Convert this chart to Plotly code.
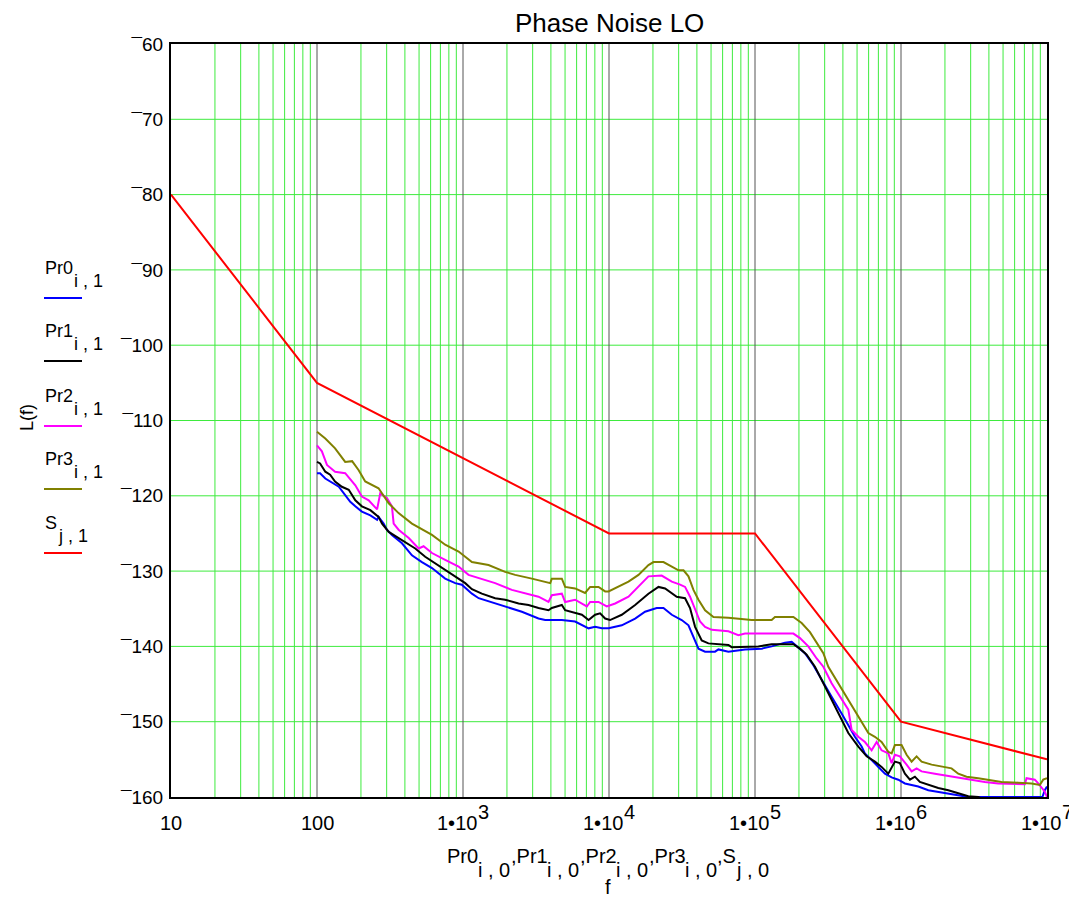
import math
import plotly.graph_objects as go

FONT = "Liberation Sans, Arial, sans-serif"
FS = 20      # tick labels / axis titles
FS_LEG = 18  # legend labels

# ---------------- data ----------------
pr0_f = [100, 105, 114, 127, 141, 156, 169, 183, 203, 232, 258, 264, 286, 301, 326, 382, 447, 523, 613, 755, 885,
         982, 1091, 1151, 1280, 1660, 1944, 2530, 3290, 3655, 4508, 4753, 5859, 6520, 7245, 8035, 8933, 9930,
         12230, 15100, 17660, 21220, 23610, 26920, 31470, 35020, 37880, 41000, 45500, 53230, 56180, 65750, 85470,
         111200, 130000, 160400, 178300, 192900, 219900, 251100, 286300, 334800, 392000, 446900, 459000, 483400,
         537500, 566000, 629300, 699300, 776200, 862700, 958000, 1064000, 1182000, 1313000, 1538000, 1800000,
         2108000, 2466000, 2890000, 5000000, 9300000, 9660000, 10000000]
pr0_v = [-117.0, -117.0, -117.7, -118.3, -118.8, -119.9, -120.8, -121.4, -122.1, -122.6, -123.2, -122.8, -123.7,
         -124.5, -125.2, -126.3, -127.9, -128.8, -129.6, -131.0, -131.6,
         -131.8, -132.6, -133.0, -133.6, -134.3, -134.7, -135.4, -136.3, -136.5, -136.5, -136.5, -136.7, -137.2,
         -137.6, -137.4, -137.6, -137.6,
         -137.2, -136.3, -135.4, -134.9, -134.9, -135.8, -136.5, -137.2, -138.7, -140.3, -140.7, -140.7, -140.4,
         -140.7, -140.4,
         -140.3, -140.0, -139.5, -139.4, -140.0, -140.9, -142.5, -144.5, -146.7, -148.9, -150.9, -151.3, -152.0,
         -153.3, -154.2, -155.1, -156.0, -156.9, -157.4, -157.7, -158.2, -158.4, -158.6, -159.1, -159.3,
         -159.5, -159.7, -160.0, -160.0, -160.0, -159.1, -158.6]

pr1_f = [100, 105, 114, 123, 133, 148, 165, 183, 203, 232, 264, 279, 310, 362, 425, 471, 551, 645, 755, 885,
         1036, 1151, 1346, 1660, 1944, 2404, 2812, 3290, 3852, 4058, 4508, 4753, 5006, 5859, 6520, 7245, 8035,
         8690, 9409, 10170, 12230, 15100, 18630, 21820, 24220, 29110, 33190, 35900, 38870, 43150, 47960, 65750,
         69200, 105500, 130000, 183200, 203200, 225800, 257500, 293800, 334800, 381700, 435700, 510200, 581800,
         662600, 736200, 818500, 862700, 908500, 982000, 1064000, 1151000, 1245000, 1347000, 1538000, 1800000,
         2108000, 2466000, 2890000, 3381000, 4000000, 10000000]
pr1_v = [-115.5, -115.7, -116.8, -117.2, -118.1, -118.8, -119.2, -120.6, -121.4, -121.9, -122.8, -123.7, -124.8,
         -125.6, -126.5, -127.0, -128.1, -129.0, -129.9, -130.7,
         -131.6, -132.4, -133.0, -133.6, -133.8, -134.3, -134.5, -134.9, -135.2, -134.9, -134.7, -134.5, -135.2,
         -135.6, -135.8, -136.5, -135.8,
         -135.6, -136.3, -136.5, -135.8, -134.5, -133.0, -132.1, -132.3, -133.4, -133.6, -134.9, -137.4, -139.2,
         -139.6, -139.8,
         -140.1, -140.0, -139.7, -139.7, -140.3, -141.1, -142.7, -144.9, -147.1, -149.3, -151.5, -153.3, -154.6,
         -155.3, -156.0, -156.9, -156.0, -155.3, -155.5, -156.9, -157.7, -157.3, -158.0, -158.4, -158.8,
         -159.1, -159.5, -159.9, -160.0, -160.6, -160.6]

pr2_f = [100, 108, 117, 133, 156, 183, 203, 226, 258, 271, 301, 326, 335, 362, 425, 497, 537, 613, 755, 933,
         1091, 1346, 1660, 2161, 2812, 3290, 3852, 4058, 4753, 5006, 5859, 6520, 7048, 7427, 8478, 9660, 11020,
         13600, 16790, 18630, 22960, 26920, 30690, 33190, 35900, 38870, 42040, 45500, 50580, 65750, 76900, 85470,
         183200, 203200, 231800, 264300, 293800, 334800, 381700, 435700, 459000, 510200, 566000, 629300, 681000,
         736200, 818500, 862700, 908500, 982000, 1092000, 1182000, 1279000, 1384000, 1706000, 2108000, 2600000,
         3041000, 3752000, 4634000, 6350000, 7047000, 7240000, 8254000, 8710000, 9165000, 9660000, 10000000]
pr2_v = [-113.3, -114.1, -115.9, -116.8, -117.0, -118.6, -120.1, -120.6, -121.8, -119.7, -120.3, -121.4, -123.7,
         -124.5, -125.6, -127.0, -126.7, -127.6, -128.5, -129.4,
         -130.5, -131.0, -131.6, -132.5, -133.0, -133.4, -134.1, -133.2, -133.0, -134.1, -133.8, -134.3, -134.7,
         -134.1, -134.1, -134.7, -134.3,
         -133.4, -131.6, -130.7, -130.6, -131.4, -131.8, -132.1, -133.4, -135.2, -136.7, -137.4, -137.8, -138.0,
         -138.5, -138.3,
         -138.3, -138.9, -140.0, -141.6, -142.7, -144.9, -146.7, -148.4, -151.1, -152.0, -152.7, -153.8, -152.7,
         -153.8, -154.2, -155.5, -154.4, -154.6, -155.7, -156.6, -156.2, -156.6, -156.9, -157.2, -157.5,
         -157.7, -158.0, -158.2, -158.2, -158.3, -157.5, -157.7, -158.2, -158.8, -159.3, -160.0]

pr3_f = [100, 114, 133, 156, 174, 193, 214, 264, 310, 362, 447, 523, 613, 755, 933, 1151, 1496, 1944, 2277, 2963,
         3957, 4058, 4753, 5006, 5859, 6857, 7427, 8478, 9409, 9930, 11620, 13600, 15920, 18630, 20170, 23610,
         26920, 29930, 32380, 35020, 37880, 41000, 45500, 51900, 65750, 81100, 94840, 130000, 137000, 183200,
         208700, 237900, 271400, 293800, 317900, 372300, 435700, 510200, 597300, 662600, 736200, 818500, 862700,
         908500, 1009000, 1092000, 1182000, 1279000, 1384000, 1620000, 1897000, 2220000, 2466000, 2812000,
         3381000, 3961000, 4883000, 6350000, 7834000, 8933000, 9420000, 10000000]
pr3_v = [-111.5, -112.4, -113.7, -115.5, -115.4, -116.6, -118.1, -119.0, -121.0, -122.3, -123.7, -124.5, -125.2,
         -126.5, -127.4, -128.8, -129.2, -130.1, -130.5, -131.0,
         -131.6, -131.0, -131.0, -132.1, -132.3, -132.9, -132.1, -132.1, -132.7, -132.7, -132.1, -131.4, -130.5,
         -129.2, -128.8, -128.8,
         -129.4, -129.9, -129.9, -130.7, -132.5, -133.8, -135.2, -136.1, -136.2, -136.4, -136.5, -136.5, -136.1,
         -136.1,
         -136.9, -138.1, -139.8, -140.9, -142.7, -144.9, -147.1, -149.3, -151.5, -152.0, -152.7, -154.0, -154.2,
         -153.1, -153.1, -154.4, -155.3, -154.6, -155.3, -155.7, -156.0, -156.2, -156.9, -157.3,
         -157.5, -157.7, -158.0, -158.1, -158.2, -158.4, -157.7, -157.5]

spec_f = [10, 100, 10000, 100000, 1000000, 10000000]
spec_v = [-80, -105, -125, -125, -150, -155]

series_names = ["Pr0", "Pr1", "Pr2", "Pr3", "S"]
series_subs_y = ["i , 1", "i , 1", "i , 1", "i , 1", "j , 1"]
series_subs_x = ["i , 0", "i , 0", "i , 0", "i , 0", "j , 0"]
series_f = [pr0_f, pr1_f, pr2_f, pr3_f, spec_f]
series_v = [pr0_v, pr1_v, pr2_v, pr3_v, spec_v]
series_col = ["#0000FF", "#000000", "#FF00FF", "#808000", "#FF0000"]

x_tick_vals = [10, 100, 1e3, 1e4, 1e5, 1e6, 1e7]
y_tick_vals = list(range(-60, -161, -10))
y_tick_text = ["\u00af%d" % abs(v) for v in y_tick_vals]
title_text = "Phase Noise LO"
y_title = "L(f)"
x_title2 = "f"

# ---------------- helpers ----------------
ARIAL = {'P': .667, 'r': .333, 'S': .667, 'i': .222, 'j': .222, ',': .278, ' ': .278, '\u2022': .35,
         'f': .278, '(': .333, ')': .333, 'L': .556}


def tw(s, size=FS):
    return sum(ARIAL.get(c, .556) for c in s) * size


# page coordinates of the plot area (the html body adds an 8px margin)
OFF = 8
L, R, T, B = 171, 1047, 44, 797
PAGE_W, PAGE_H = 1077, 898
W, H = PAGE_W - OFF, PAGE_H - OFF
pw, ph = R - L, B - T


def px(x):
    return (x - L) / pw


def py(y):
    return (B - y) / ph


def txt(x, y, s, xanchor="left", size=FS, angle=0):
    return dict(xref="paper", yref="paper", x=px(x), y=py(y), xanchor=xanchor, yanchor="middle",
                text=s, showarrow=False, textangle=angle, borderpad=0, borderwidth=0,
                font=dict(size=size, family=FONT, color="black"))


# ---------------- figure ----------------
fig = go.Figure()

GREEN = "#3EEB3E"
DECADE = "#555555"

gx, gy = [], []
for k in range(1, 7):
    for m in range(2, 10):
        gx += [m * 10 ** k, m * 10 ** k, None]
        gy += [-160, -60, None]
fig.add_trace(go.Scatter(x=gx, y=gy, mode="lines", line=dict(color=GREEN, width=1),
                         hoverinfo="skip", showlegend=False))
hx, hy = [], []
for v in y_tick_vals[1:-1]:
    hx += [10, 1e7, None]
    hy += [v, v, None]
fig.add_trace(go.Scatter(x=hx, y=hy, mode="lines", line=dict(color=GREEN, width=1),
                         hoverinfo="skip", showlegend=False))
dx, dy = [], []
for k in range(2, 7):
    dx += [10 ** k, 10 ** k, None]
    dy += [-160, -60, None]
fig.add_trace(go.Scatter(x=dx, y=dy, mode="lines", line=dict(color=DECADE, width=1),
                         hoverinfo="skip", showlegend=False))

for name, fx, vy, col in zip(series_names, series_f, series_v, series_col):
    fig.add_trace(go.Scatter(x=fx, y=vy, mode="lines", line=dict(color=col, width=2),
                             name=name, showlegend=False))

fig.update_layout(
    width=W, height=H,
    margin=dict(l=L - OFF, r=W - (R - OFF), t=T - OFF, b=H - (B - OFF), autoexpand=False),
    paper_bgcolor="white", plot_bgcolor="white",
    font=dict(family=FONT, size=FS, color="black"),
    showlegend=False,
)
fig.update_xaxes(type="log", range=[1, 7], showgrid=False, zeroline=False, automargin=False,
                 showline=True, linewidth=2, linecolor="black", mirror=True,
                 tickmode="array", tickvals=x_tick_vals, ticktext=[""] * len(x_tick_vals), ticks="")
fig.update_yaxes(range=[-160, -60], showgrid=False, zeroline=False, automargin=False,
                 showline=True, linewidth=2, linecolor="black", mirror=True,
                 tickmode="array", tickvals=y_tick_vals, ticktext=y_tick_text, ticks="",
                 ticklabelstandoff=2, tickfont=dict(size=19, family=FONT))

ann = []
shapes = []

# title
ann.append(txt((L + R) / 2, 23, title_text, xanchor="center", size=26))

# x tick labels (Mathcad style 1•10^n with full-size raised exponent)
for v in x_tick_vals:
    cx = L + pw * (math.log10(v) - 1) / 6
    e = int(round(math.log10(v)))
    if e <= 2:
        ann.append(txt(cx, 823, str(int(v)), xanchor="center"))
    else:
        base, ex = "1\u202210", str(e)
        w0 = tw(base) + tw(ex)
        x0 = cx - w0 / 2
        ann.append(txt(x0, 823, base))
        ann.append(txt(x0 + tw(base), 812, ex))

# legend (Mathcad-style, left of the plot)
leg_line_y = [298, 361, 426, 489, 553]
for name, sub, col, ly in zip(series_names, series_subs_y, series_col, leg_line_y):
    ann.append(txt(45, ly - 30, name, size=FS_LEG))
    ann.append(txt(45 + tw(name, FS_LEG) + 1, ly - 17, sub, size=FS_LEG))
    shapes.append(dict(type="line", xref="paper", yref="paper", x0=px(44), x1=px(82), y0=py(ly), y1=py(ly),
                       line=dict(color=col, width=2)))

# y axis title
ann.append(txt(27, 418, y_title, xanchor="center", angle=-90, size=FS_LEG))

# x axis title (Mathcad-style with full-size subscripts)
pieces = []
for k, (name, sub) in enumerate(zip(series_names, series_subs_x)):
    pieces.append(("," + name if k else name, 0))
    pieces.append((sub, 1))
total = sum(tw(p) for p, _ in pieces)
cur = 608 - total / 2
for p, lvl in pieces:
    ann.append(txt(cur, 856 + 14 * lvl, p))
    cur += tw(p)
ann.append(txt(608, 887, x_title2, xanchor="center"))

fig.update_layout(annotations=ann, shapes=shapes)

fig.write_html("out.html")
